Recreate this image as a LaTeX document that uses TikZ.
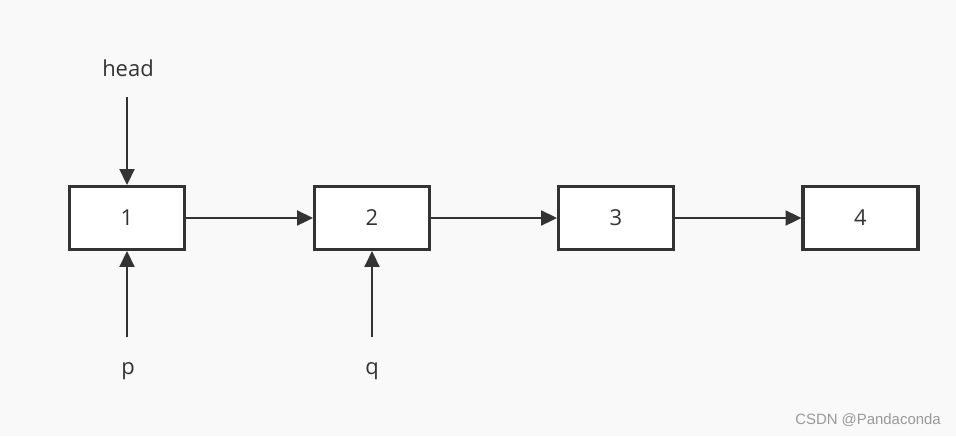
\documentclass[tikz,border=0pt]{standalone}
\usepackage{fontspec}
\setmainfont{Open Sans}
\newfontfamily\markfont{Liberation Sans}
\usetikzlibrary{arrows.meta, positioning}
\usepackage{xcolor}
\definecolor{inkgray}{HTML}{333333}
\definecolor{paper}{HTML}{F9F9F9}

\begin{document}
\begin{tikzpicture}[x=0.02cm, y=-0.02cm, font=\fontsize{12.5}{14}\selectfont,
        >={Triangle[length=9pt,width=8.5pt]},
        listnode/.style={draw=inkgray, line width=1.8pt, fill=white, minimum width=2.3cm, minimum height=1.26cm, text=inkgray},
        link/.style={->, draw=inkgray, line width=1.3pt},
        ptrlabel/.style={text=inkgray}]
        % background and page size
        \fill[paper] (0,0) rectangle (956,436);
        \useasboundingbox (0,0) rectangle (956,436);

        % list nodes
        \node[listnode] (n1) at (127,218) {1};
        \node[listnode] (n2) at (372,218) {2};
        \node[listnode] (n3) at (616,218) {3};
        \node[listnode] (n4) at (860.5,218) {4};

        % pointer labels
        \node[ptrlabel] (head) at (128,68)  {head};
        \node[ptrlabel] (p)    at (128,371) {p};
        \node[ptrlabel] (q)    at (372,371) {q};
        \coordinate (headtail) at (127,97);
        \coordinate (ptail)    at (127,337);
        \coordinate (qtail)    at (372,337);

        % next links
        \draw[link] (n1) -- (n2);
        \draw[link] (n2) -- (n3);
        \draw[link] (n3) -- (n4);

        % pointers
        \draw[link] (headtail) -- (n1);
        \draw[link] (ptail) -- (n1);
        \draw[link] (qtail) -- (n2);

        % watermark
        \node[text=gray!80, font=\markfont\fontsize{8.5}{9}\selectfont] (mark) at (868,420) {CSDN @Pandaconda};
    \end{tikzpicture}
\end{document}
